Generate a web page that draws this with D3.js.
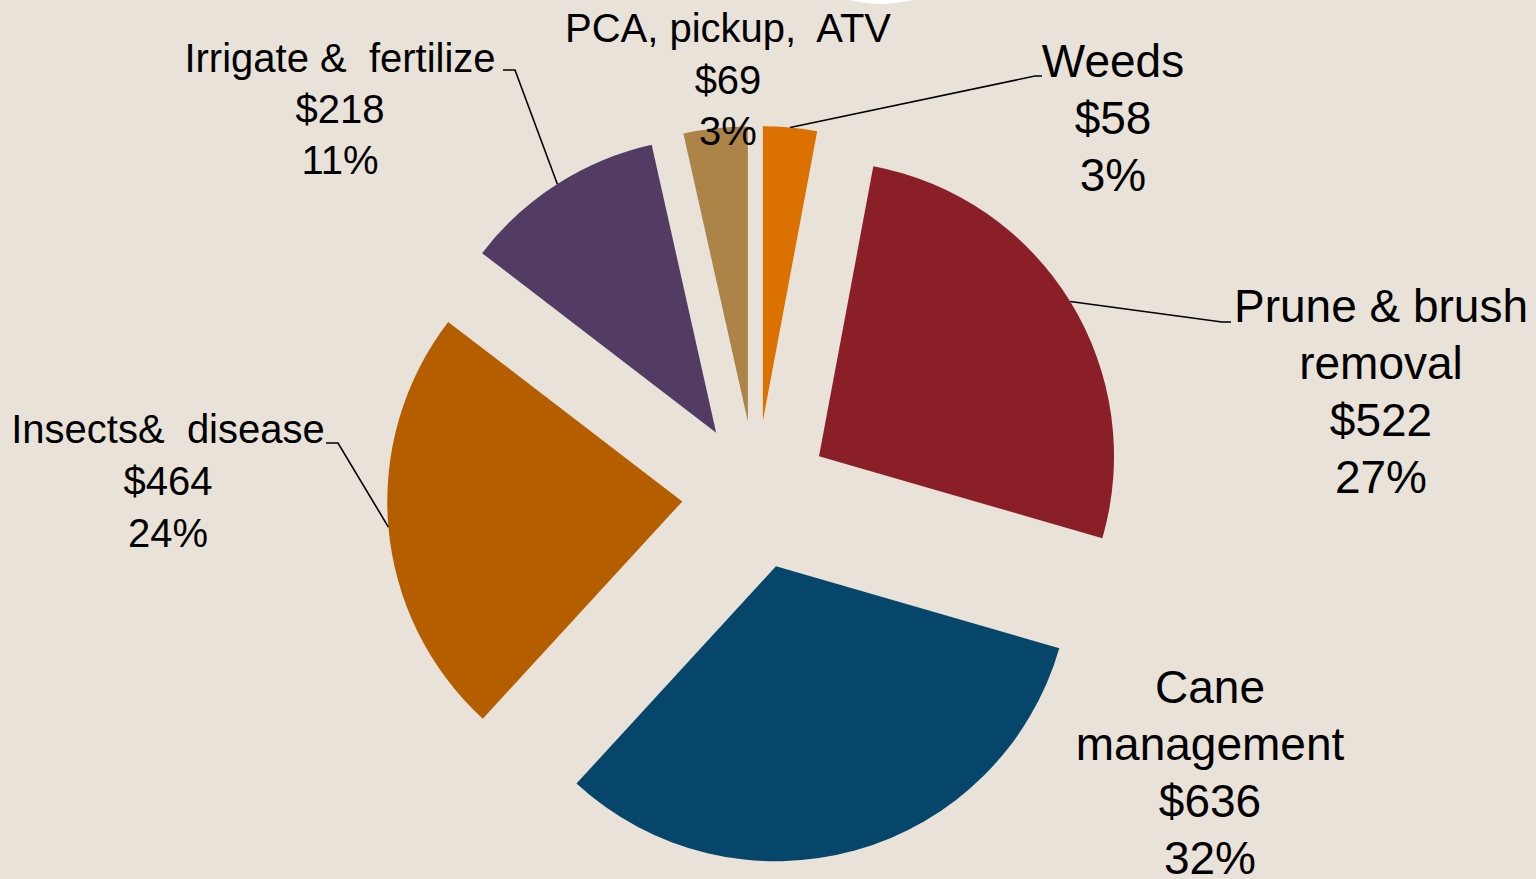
<!DOCTYPE html>
<html>
<head>
<meta charset="utf-8">
<script src="https://cdn.jsdelivr.net/npm/d3@7"></script>
<style>
  html, body { margin: 0; padding: 0; background: #e8e2d9; overflow: hidden; }
  text { font-family: "Liberation Sans", Arial, sans-serif; fill: #000; white-space: pre; }
</style>
</head>
<body>
<script>
// slice data, clockwise from 12 o'clock
var categories = ["Weeds", "Prune & brush removal", "Cane management", "Insects & disease", "Irrigate & fertilize", "PCA, pickup, ATV"];
var labelLines = [["Weeds"], ["Prune & brush", "removal"], ["Cane", "management"], ["Insects&  disease"], ["Irrigate &  fertilize"], ["PCA, pickup,  ATV"]];
var costs = [58, 522, 636, 464, 218, 69];
var percents = ["3%", "27%", "32%", "24%", "11%", "3%"];
var colors = ["#da7100", "#8a1f28", "#06466b", "#b55e00", "#523c63", "#ac8447"];

var width = 1536, height = 879;
var center = {x: 756, y: 495};
var radius = 295;
var explode = 74; // every slice pulled out by the same amount

// label layout: text centre x, first baseline, font size, line step, leader elbow + end (null = no leader)
var labelLayout = [
    {x: 1113, y: 77,  size: 46, step: 57, leader: [[1035, 76], [1042, 76]]},
    {x: 1381, y: 322, size: 46, step: 57, leader: [[1222, 322], [1231, 322]]},
    {x: 1210, y: 703, size: 46, step: 57, leader: null},
    {x: 168,  y: 443, size: 40, step: 52, leader: [[338, 443], [326, 443]]},
    {x: 340,  y: 72,  size: 40, step: 51, leader: [[515, 70], [503, 70]]},
    {x: 728,  y: 42,  size: 40, step: 51.5, leader: null}
];

var svg = d3.select("body").append("svg")
    .attr("width", width)
    .attr("height", height);

svg.append("rect")
    .attr("width", width)
    .attr("height", height)
    .attr("fill", "#e8e2d9");

// small white shape peeking in at the top edge
svg.append("circle")
    .attr("cx", 881)
    .attr("cy", -122)
    .attr("r", 126)
    .attr("fill", "#ffffff");

var pie = d3.pie().sort(null).startAngle(0).value(function(d) { return d; });
var pieData = pie(costs);

var arc = d3.arc().innerRadius(0).outerRadius(radius);
var edgeArc = d3.arc().innerRadius(radius).outerRadius(radius); // centroid = point on the rim

function offset(d) {
    var mid = (d.startAngle + d.endAngle) / 2;
    return [center.x + explode * Math.sin(mid), center.y - explode * Math.cos(mid)];
}

var slices = svg.selectAll("g.slice")
    .data(pieData)
    .enter()
    .append("g")
    .attr("class", "slice")
    .attr("transform", function(d) { var o = offset(d); return "translate(" + o[0] + "," + o[1] + ")"; });

slices.append("path")
    .attr("d", arc)
    .attr("fill", function(d, i) { return colors[i]; });

// leader lines from the rim midpoint to the label
pieData.forEach(function(d, i) {
    var lay = labelLayout[i];
    if (!lay.leader) return;
    var o = offset(d);
    var c = edgeArc.centroid(d);
    var pts = [[o[0] + c[0], o[1] + c[1]]].concat(lay.leader);
    svg.append("path")
        .attr("d", d3.line()(pts))
        .attr("fill", "none")
        .attr("stroke", "#000")
        .attr("stroke-width", 1.6);
});

// labels: name lines, cost, percent
pieData.forEach(function(d, i) {
    var lay = labelLayout[i];
    var lines = labelLines[i].concat(["$" + costs[i], percents[i]]);
    var t = svg.append("text")
        .attr("text-anchor", "middle")
        .attr("font-size", lay.size);
    lines.forEach(function(line, j) {
        t.append("tspan")
            .attr("x", lay.x)
            .attr("y", lay.y + j * lay.step)
            .text(line);
    });
});
</script>
</body>
</html>
